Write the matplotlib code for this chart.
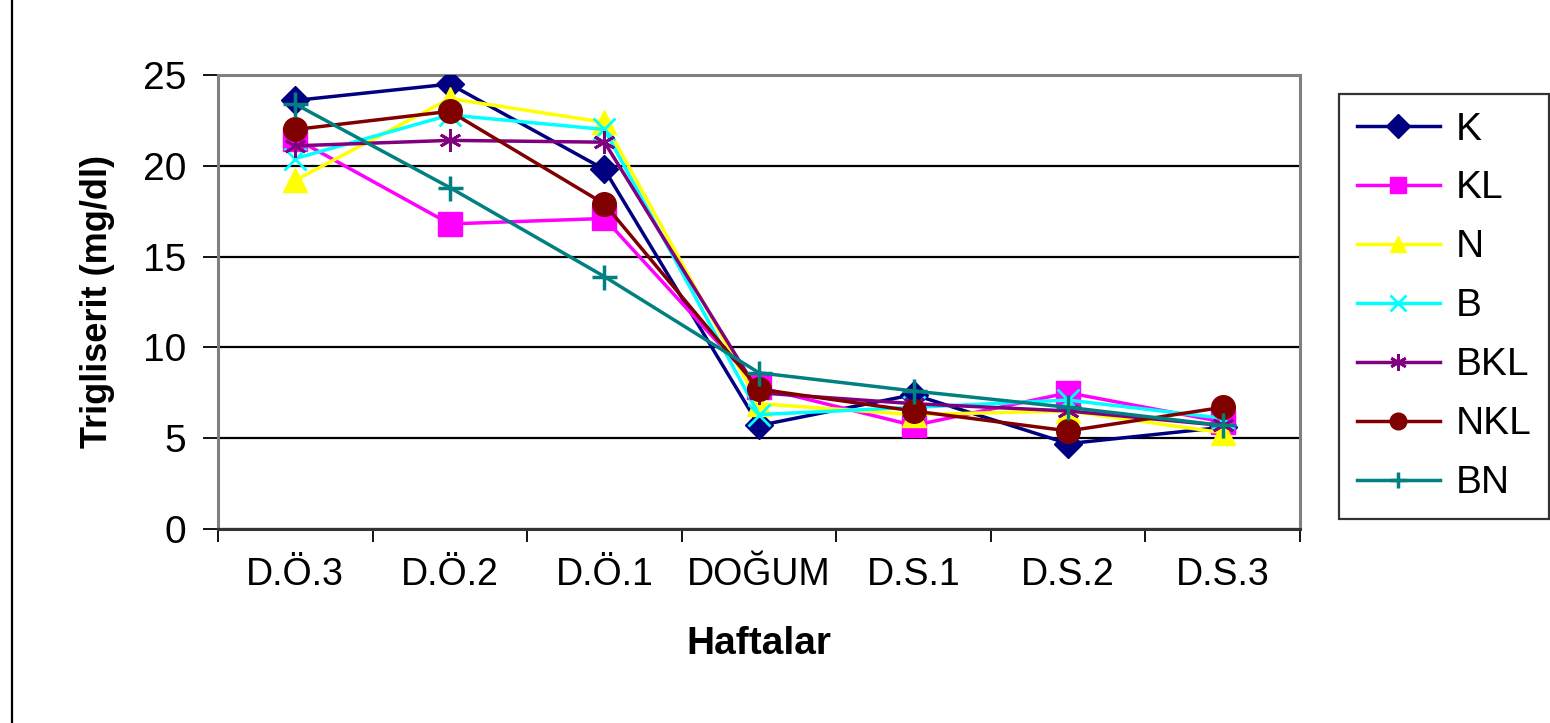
"""
Trigliserit (mg/dl) by week around birth, seven groups.
"""

import matplotlib
matplotlib.use("Agg")
import matplotlib.pyplot as plt
from matplotlib.lines import Line2D
from matplotlib.ticker import FixedLocator, NullFormatter

plt.rcParams["font.family"] = ["Liberation Sans", "DejaVu Sans"]

# ── data ──────────────────────────────────────────────────────────────────────
weeks = ["D.Ö.3", "D.Ö.2", "D.Ö.1", "DOĞUM", "D.S.1", "D.S.2", "D.S.3"]

K   = [23.6, 24.5, 19.8, 5.7, 7.4, 4.7, 5.6]
KL  = [21.5, 16.8, 17.1, 7.8, 5.7, 7.5, 5.9]
N   = [19.2, 23.7, 22.4, 6.9, 6.3, 6.5, 5.3]
B   = [20.4, 22.8, 22.0, 6.3, 6.7, 7.1, 6.1]
BKL = [21.1, 21.4, 21.3, 7.5, 6.9, 6.5, 5.7]
NKL = [22.0, 23.0, 17.9, 7.7, 6.5, 5.4, 6.7]
BN  = [23.4, 18.8, 13.9, 8.6, 7.6, 6.7, 5.7]

series = [
    ("K",   K,   "#000080", "D", 14, {}),
    ("KL",  KL,  "#FF00FF", "s", 17, {}),
    ("N",   N,   "#FFFF00", "^", 17, {}),
    ("B",   B,   "#00FFFF", "x", 16, {"markeredgewidth": 2}),
    ("BKL", BKL, "#800080", (6, 2, 0), 16, {"markeredgewidth": 2}),
    ("NKL", NKL, "#800000", "o", 17, {}),
    ("BN",  BN,  "#008080", "+", 18, {"markeredgewidth": 2.5}),
]

# ── plot ──────────────────────────────────────────────────────────────────────
fig = plt.figure(figsize=(15.5, 7.23), dpi=100)
ax = fig.add_axes([218 / 1550, 1 - 529 / 723, (1300 - 218) / 1550, (529 - 75) / 723])

x = list(range(len(weeks)))
handles = []
for i, (name, vals, color, marker, ms, extra) in enumerate(series):
    ln, = ax.plot(x, vals, color=color, lw=2.5, marker=marker, markersize=ms,
                  markerfacecolor=color, markeredgecolor=color, zorder=3 + i,
                  label=name, **extra)
    handles.append(ln)

ax.set_xlim(-0.5, len(weeks) - 0.5)
ax.set_ylim(0, 25)
ax.set_yticks([0, 5, 10, 15, 20, 25])
ax.yaxis.grid(True, color="black", lw=1.6)
ax.set_axisbelow(True)

# category ticks between groups, labels centred under each group
ax.xaxis.set_major_locator(FixedLocator([i - 0.5 for i in range(len(weeks) + 1)]))
ax.xaxis.set_major_formatter(NullFormatter())
ax.xaxis.set_minor_locator(FixedLocator(x))
ax.set_xticklabels(weeks, minor=True)
ax.tick_params(axis="x", which="major", direction="out", length=9, width=1.3,
               color="black")
ax.tick_params(axis="x", which="minor", length=0, pad=20, labelsize=27)
ax.tick_params(axis="y", direction="out", length=11, width=1.3, pad=12,
               labelsize=28, color="black")

for side in ("left", "top", "right"):
    ax.spines[side].set_color("#808080")
    ax.spines[side].set_linewidth(2.2)
ax.spines["bottom"].set_color("#333333")
ax.spines["bottom"].set_linewidth(2.2)

ax.set_xlabel("Haftalar", fontsize=28, fontweight="bold", labelpad=24)
ax.set_ylabel("Trigliserit (mg/dl)", fontsize=26, fontweight="bold", labelpad=20)

leg = fig.legend(handles=handles, loc="upper left",
                 bbox_to_anchor=(1339 / 1550, 1 - 94 / 723),
                 fontsize=28, frameon=True, fancybox=False, edgecolor="black",
                 handlelength=2.15, handletextpad=0.4, labelspacing=0.59,
                 borderpad=0.45, borderaxespad=0)
leg.get_frame().set_linewidth(1.6)
for h in leg.legend_handles:
    h.set_markersize(12)

# thin border line at the far left of the picture
fig.add_artist(Line2D([12 / 1550, 12 / 1550], [0, 1], color="black", lw=1.6,
                      transform=fig.transFigure))

fig.savefig("out.png", dpi=100)
